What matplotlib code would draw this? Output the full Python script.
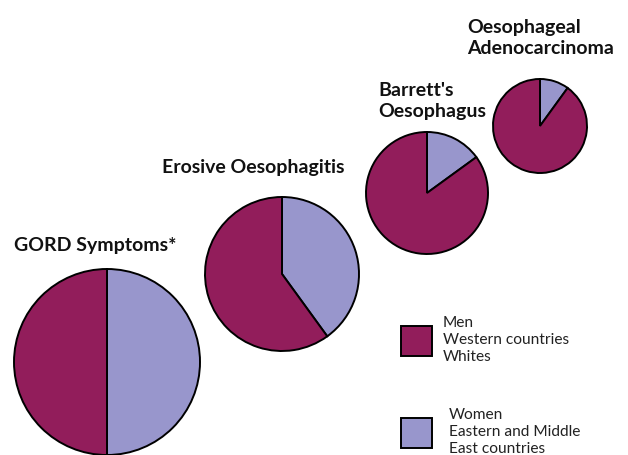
import matplotlib.pyplot as plt

plt.rcParams['font.family'] = ['Lato', 'DejaVu Sans']

# share of each stage, women/eastern (lavender) vs men/western (maroon)
stages = ["GORD Symptoms*", "Erosive Oesophagitis",
          "Barrett's\nOesophagus", "Oesophageal\nAdenocarcinoma"]
women_share = [50, 40, 15, 10]
men_share = [100 - w for w in women_share]

legend_labels = ["Men\nWestern countries\nWhites",
                 "Women\nEastern and Middle\nEast countries"]

maroon = '#921d5b'
lavender = '#9896cc'

W, H = 628, 455
# pie layout in pixel coords (y measured from top of image)
centers = [(107, 362), (282, 274), (427, 193), (540, 126)]
radii = [93, 77, 61, 47]
title_pos = [(14, 246), (162, 167), (378, 101), (467, 38)]

fig = plt.figure(figsize=(W / 100, H / 100), dpi=100)
ax = fig.add_axes([0, 0, 1, 1])

for i in range(len(stages)):
    cx, cy = centers[i]
    ax.pie([women_share[i], men_share[i]], colors=[lavender, maroon],
           startangle=90, counterclock=False, center=(cx, H - cy),
           radius=radii[i], frame=True,
           wedgeprops=dict(edgecolor='black', linewidth=1.4))
    tx, ty = title_pos[i]
    ax.text(tx, H - ty, stages[i], fontsize=14, fontweight='bold',
            ha='left', va='center', linespacing=1.3, color='#111111')

# legend boxes drawn by hand to match the original layout
box_y = [341, 433]
text_x = [443, 449]
for j, (lab, col) in enumerate(zip(legend_labels, [maroon, lavender])):
    ax.add_patch(plt.Rectangle((401, H - box_y[j] - 15), 31, 30,
                               facecolor=col, edgecolor='black', lw=1.4))
    ax.text(text_x[j], H - box_y[j] + 1, lab, fontsize=11.2, ha='left',
            va='center', linespacing=1.3, color='#222222')

ax.set_xlim(0, W)
ax.set_ylim(0, H)
ax.set_aspect('equal')
ax.axis('off')

fig.savefig('out.png', dpi=100)
